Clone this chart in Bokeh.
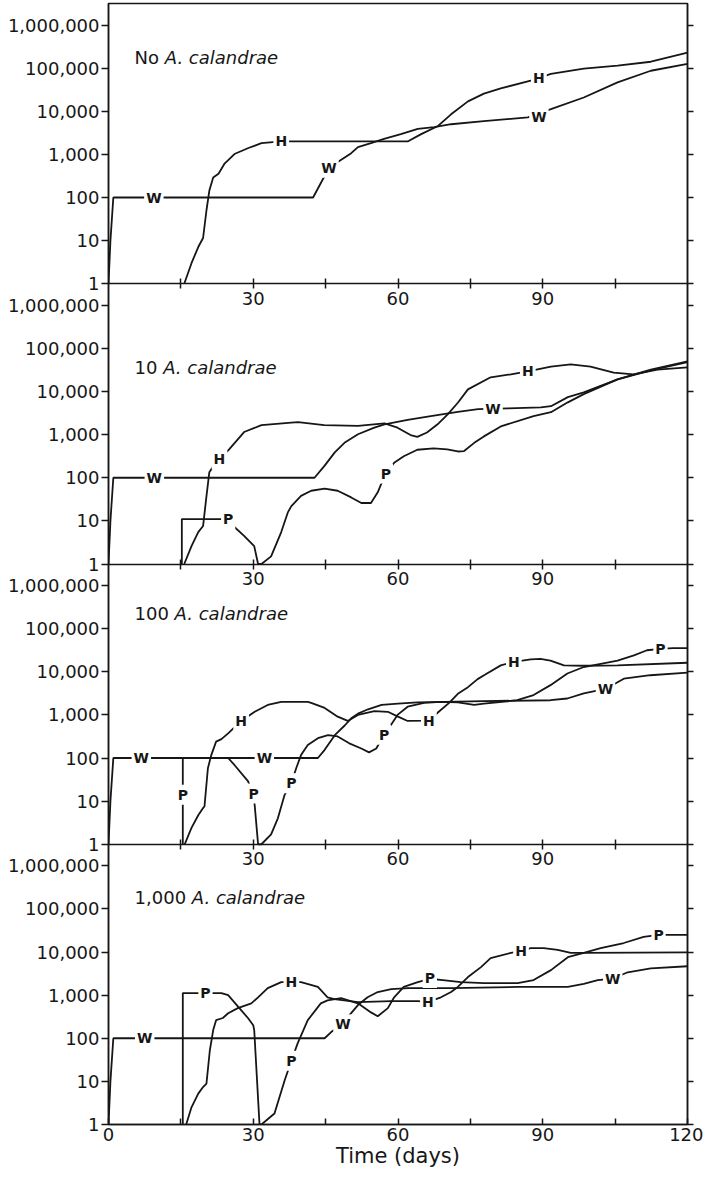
from bokeh.plotting import figure
from bokeh.models import (Range1d, FixedTicker, LinearAxis, LogAxis, LogScale,
                          CustomJSTickFormatter, ColumnDataSource)
from bokeh.core.properties import value
from bokeh.embed import file_html
from bokeh.resources import INLINE

# ---------------- data ----------------
X_TICKS = [0, 15, 30, 45, 60, 75, 90, 105, 120]
X_INNER_TICKS = [15, 30, 45, 60, 75, 90, 105]
X_HIDDEN = [15, 45, 75, 105]
Y_TICKS = [1, 10, 100, 1000, 10000, 100000, 1000000]

PANEL_PREFIX = ["No ", "10 ", "100 ", "1,000 "]
PANEL_SPECIES = "A. calandrae"
X_TITLE = "Time (days)"
TITLE_DAY = 5.4
TITLE_COUNT = [174000, 36300, 229000, 182000]

# Panel 1 : no A. calandrae
p1_w_day = [0, 0.4, 1.0, 42.4, 45.7, 50.3, 51.7, 54.4, 57.1, 60.6, 64.1, 67.5, 71.0, 77.8,
            86.9, 91.7, 98.5, 105.5, 112.4, 120]
p1_w_count = [1, 10, 100, 100, 490, 1070, 1480, 1820, 2290, 2950, 3890, 4270, 5010, 5890,
              7240, 11200, 20900, 46800, 87100, 126000]
p1_h_day = [15.7, 17.2, 18.6, 19.6, 20.3, 20.9, 21.7, 22.8, 24.0, 26.1, 29.0, 31.7, 35.8,
            62.0, 64.8, 68.3, 71.0, 74.5, 77.8, 81.3, 87.5, 91.7, 98.5, 105.5, 112.4, 120]
p1_h_count = [1, 3, 7.1, 11.5, 50, 145, 290, 355, 600, 1020, 1410, 1820, 2000,
              2000, 2950, 4570, 8510, 17000, 25700, 33900, 51300, 74100, 97700, 115000,
              141000, 229000]
p1_lab_text = ["W", "H", "W", "H", "W"]
p1_lab_day = [9.4, 35.8, 45.7, 89.2, 89.2]
p1_lab_count = [100, 2000, 490, 58000, 7500]

# Panel 2 : 10 A. calandrae
p2_w_day = [0, 0.4, 1.0, 42.7, 44.8, 46.9, 48.9, 51.7, 55.1, 57.2, 62.0, 66.8, 72.4, 76.6,
            82.8, 89.6, 91.7, 95.2, 98.5, 105.5, 112.4, 120]
p2_w_count = [1, 10, 100, 100, 191, 389, 646, 1020, 1450, 1740, 2190, 2690, 3390, 3890,
              4070, 4270, 4570, 7410, 9550, 19100, 32400, 50100]
p2_h_day = [15.7, 17.2, 18.6, 19.6, 20.3, 20.9, 21.7, 23.0, 25.0, 28.1, 31.7, 37.9, 39.3,
            44.7, 51.7, 57.2, 59.9, 62.6, 64.0, 66.0, 68.2, 70.3, 72.4, 74.5, 79.2, 83.4,
            86.9, 91.7, 95.8, 99.9, 104.7, 108.8, 113.8, 120]
p2_h_count = [1, 2.6, 5.5, 7.6, 37, 135, 186, 270, 457, 1150, 1660, 1900, 1950,
              1660, 1590, 1820, 1450, 977, 891, 1120, 1740, 2950, 5500, 11200, 21400, 25100,
              29500, 38000, 42700, 38000, 27500, 25100, 32400, 36300]
p2_p_day = [15.2, 15.2, 24.8, 26.1, 28.1, 30.2, 31.0, 31.7, 33.7, 35.8, 37.2, 37.9, 39.9,
            42.0, 44.8, 47.5, 50.3, 52.4, 54.4, 55.8, 56.5, 57.5, 59.2, 61.2, 64.0, 67.4,
            70.2, 72.4, 73.7, 75.8, 77.8, 81.3, 88.1, 91.7, 95.2, 98.5, 105.5, 112.4, 120]
p2_p_count = [1, 11, 11, 7.2, 4.5, 2.6, 1, 1, 1.5, 5.5, 16, 22, 38,
              50, 56, 50, 35, 26, 26, 46, 71, 120, 224, 316, 447, 479,
              457, 407, 417, 646, 912, 1550, 2690, 3310, 5620, 8710, 19100, 30900, 47900]
p2_lab_text = ["W", "H", "P", "P", "W", "H"]
p2_lab_day = [9.5, 23.0, 24.8, 57.5, 79.7, 86.9]
p2_lab_count = [100, 270, 11, 125, 3980, 29500]

# Panel 3 : 100 A. calandrae
p3_w_day = [0, 0.4, 1.0, 43.4, 44.8, 46.9, 49.0, 50.3, 51.7, 53.8, 56.6, 60.0, 64.1, 77.8,
            91.6, 95.1, 98.5, 103.0, 106.8, 112.3, 120]
p3_w_count = [1, 10, 100, 100, 155, 339, 575, 832, 1070, 1350, 1700, 1820, 1950, 2090,
              2190, 2400, 3160, 4000, 6920, 8320, 9550]
p3_h_day = [15.8, 17.2, 18.6, 19.6, 19.9, 20.6, 21.3, 22.3, 23.4, 24.8, 27.5, 30.3, 33.0,
            35.8, 41.3, 42.0, 44.8, 47.5, 49.6, 51.7, 55.1, 57.9, 60.0, 62.0, 66.4, 68.5,
            70.6, 72.4, 74.5, 76.5, 78.0, 81.3, 84.0, 87.5, 89.5, 91.6, 94.4, 98.5, 105.5, 120]
p3_h_count = [1, 2.4, 4.7, 6.9, 7.6, 58, 117, 240, 275, 372, 724, 1180, 1700,
              2000, 2000, 1910, 1450, 912, 724, 1000, 1230, 1180, 912, 724, 740, 1200,
              1900, 3090, 4400, 6760, 8500, 14100, 17000, 19500, 20000, 18200, 14100, 13800,
              14100, 16200]
p3_p_day = [15.4, 15.4, 24.8, 26.1, 28.9, 30.0, 30.3, 31.0, 31.7, 33.7, 35.1, 36.5, 37.9,
            38.9, 39.9, 41.3, 43.4, 45.5, 47.5, 49.9, 52.4, 54.0, 55.5, 57.1, 58.5, 59.9,
            62.0, 65.4, 68.9, 72.4, 75.8, 77.8, 84.7, 88.1, 91.6, 95.1, 98.5, 105.5, 108.9,
            111.6, 114.4, 117.0, 120]
p3_p_count = [1, 100, 100, 69, 29, 15, 8, 1, 1, 1.7, 4, 14, 26,
              58, 117, 200, 288, 339, 316, 219, 166, 135, 166, 347, 575, 1000,
              1550, 1900, 2000, 1950, 1700, 1820, 2190, 2880, 4900, 9120, 12900, 18200, 24000,
              31600, 34000, 35500, 35500]
p3_lab_text = ["W", "W", "P", "H", "P", "P", "P", "H", "H", "W", "P"]
p3_lab_day = [6.8, 32.3, 15.4, 27.5, 30.1, 37.9, 57.1, 66.4, 84.0, 103.0, 114.4]
p3_lab_count = [100, 100, 14, 724, 15, 26, 347, 740, 17000, 4000, 34000]

# Panel 4 : 1,000 A. calandrae
p4_w_day = [0, 0.4, 1.0, 44.8, 46.2, 48.6, 49.9, 51.7, 53.7, 55.8, 58.6, 62.1, 71.0, 84.8,
            95.2, 98.5, 101.4, 104.5, 107.6, 112.4, 120]
p4_w_count = [1, 10, 100, 100, 141, 210, 339, 589, 891, 1180, 1380, 1450, 1450, 1550,
              1550, 1820, 2240, 2400, 3390, 4170, 4680]
p4_h_day = [16.1, 17.2, 18.6, 19.6, 20.3, 21.0, 21.7, 22.3, 23.7, 24.8, 26.8, 29.6, 31.0,
            33.0, 35.8, 37.9, 39.9, 43.4, 45.4, 46.8, 51.7, 58.6, 64.1, 66.2, 68.9, 71.0,
            72.4, 74.5, 77.2, 79.2, 83.4, 85.5, 87.5, 90.2, 93.1, 95.8, 98.5, 120]
p4_h_count = [1, 2.5, 5.2, 7.4, 8.9, 52, 155, 263, 295, 380, 501, 646, 891,
              1450, 2000, 2000, 2000, 1550, 891, 813, 692, 724, 724, 700, 891, 1180,
              1550, 2630, 4470, 7240, 9550, 10500, 12300, 12300, 11200, 9550, 9550, 9770]
p4_p_day = [15.4, 15.4, 23.4, 24.8, 26.9, 28.9, 30.0, 30.2, 31.3, 31.7, 34.4, 36.5, 37.9,
            39.2, 41.3, 44.0, 45.4, 48.2, 51.7, 54.4, 55.8, 57.9, 59.2, 61.2, 64.1, 66.6,
            69.3, 73.0, 77.8, 84.8, 88.1, 91.7, 95.2, 98.5, 102.0, 106.8, 110.9, 114.0,
            116.5, 120]
p4_p_count = [1, 1120, 1120, 1000, 537, 295, 200, 155, 1, 1, 1.8, 10.5, 30,
              76, 263, 646, 759, 851, 646, 398, 324, 501, 891, 1550, 2000, 2400,
              2240, 2000, 1910, 1910, 2240, 3800, 7590, 9550, 12300, 16200, 22400, 25100,
              25100, 25100]
p4_lab_text = ["W", "P", "H", "P", "W", "H", "P", "H", "W", "P"]
p4_lab_day = [7.5, 20.1, 37.9, 37.9, 48.6, 66.2, 66.6, 85.5, 104.5, 114.0]
p4_lab_count = [100, 1120, 2000, 30, 210, 700, 2500, 10500, 2400, 25100]

PANELS = [
    dict(series=[(p1_w_day, p1_w_count), (p1_h_day, p1_h_count)],
         labels=(p1_lab_text, p1_lab_day, p1_lab_count)),
    dict(series=[(p2_w_day, p2_w_count), (p2_h_day, p2_h_count), (p2_p_day, p2_p_count)],
         labels=(p2_lab_text, p2_lab_day, p2_lab_count)),
    dict(series=[(p3_w_day, p3_w_count), (p3_h_day, p3_h_count), (p3_p_day, p3_p_count)],
         labels=(p3_lab_text, p3_lab_day, p3_lab_count)),
    dict(series=[(p4_w_day, p4_w_count), (p4_h_day, p4_h_count), (p4_p_day, p4_p_count)],
         labels=(p4_lab_text, p4_lab_day, p4_lab_count)),
]

# ---------------- styling / layout ----------------
FONT = "DejaVu Sans"
INK = "#161616"
DECADES = 6.5            # each panel shows 1 .. 10^6.5
NP = len(PANELS)
TITLE_SIZE = 18
ADV = {",": 0.318, " ": 0.318, "N": 0.748, "o": 0.612}


def prefix_width(s, size):
    return sum(ADV.get(c, 0.636) for c in s) * size


blank = CustomJSTickFormatter(code="return ''")
overrides = {t: "" for t in X_HIDDEN}

# one log range per panel, stacked in a single frame (panel 0 on top)
names = [f"panel{k}" for k in range(NP)]
shift = [10 ** (DECADES * (NP - 1 - k)) for k in range(NP)]
extra = {names[k]: Range1d(1 / shift[k], 10 ** (DECADES * NP) / shift[k]) for k in range(NP)}
stacked_ticks = sorted(t * shift[k] for k in range(NP) for t in Y_TICKS)

count_formatter = CustomJSTickFormatter(args=dict(dec=DECADES), code="""
    const e = Math.log10(tick);
    const i = Math.round(e - dec * Math.floor((e + 0.25) / dec));
    const s = String(Math.round(Math.pow(10, i)));
    return s.replace(/\\B(?=(\\d{3})+(?!\\d))/g, ",");
""")

p = figure(width=703, height=1170, x_range=Range1d(0, 120),
           y_range=Range1d(1, 10 ** (DECADES * NP)), y_axis_type="log",
           x_axis_location=None, y_axis_location=None,
           output_backend="svg", toolbar_location=None,
           min_border_left=108, min_border_right=16, min_border_top=3, min_border_bottom=0,
           background_fill_color="white", border_fill_color="white")
p.extra_y_ranges = extra
p.extra_y_scales = {n: LogScale() for n in names}
p.grid.visible = False
p.outline_line_color = INK
p.outline_line_width = 1.5

tick_style = dict(major_tick_line_width=1.5, major_tick_line_color=INK,
                  minor_tick_out=0, minor_tick_in=0)

# left count axis (all four panels) and right tick-only axis
la = LogAxis(ticker=FixedTicker(ticks=stacked_ticks, minor_ticks=[]),
             formatter=count_formatter,
             major_tick_out=7, major_tick_in=0, major_label_standoff=2,
             major_label_text_font=FONT, major_label_text_font_size="18px",
             major_label_text_color=INK, axis_line_color=INK, axis_line_width=1.5,
             **tick_style)
p.add_layout(la, "left")
ra = LogAxis(ticker=FixedTicker(ticks=stacked_ticks, minor_ticks=[]), formatter=blank,
             major_tick_out=6, major_tick_in=0, major_label_standoff=0,
             major_label_text_font_size="1px", axis_line_color=INK, axis_line_width=1.5,
             **tick_style)
p.add_layout(ra, "right")

for k, spec in enumerate(PANELS):
    rn = names[k]
    # time axis on the boundary below each upper panel
    if k < NP - 1:
        ba = LinearAxis(y_range_name=rn, fixed_location=1,
                        ticker=FixedTicker(ticks=X_INNER_TICKS, minor_ticks=[]),
                        major_label_overrides=overrides,
                        major_tick_in=5, major_tick_out=5, major_label_standoff=3,
                        major_label_text_font=FONT, major_label_text_font_size="18px",
                        major_label_text_color=INK,
                        axis_line_color=INK, axis_line_width=1.5, **tick_style)
        p.add_layout(ba, "below")

    for days, counts in spec["series"]:
        p.line(days, counts, y_range_name=rn, line_color=INK, line_width=1.8)

    txt, dd, cc = spec["labels"]
    src = ColumnDataSource(dict(day=dd, count=cc, text=txt))
    p.text(x="day", y="count", text="text", source=src, y_range_name=rn,
           text_font=value(FONT), text_font_style="bold", text_font_size="14px",
           text_align="center", text_baseline="middle", text_color=INK,
           background_fill_color="white", padding=2)

    p.text(x=[TITLE_DAY], y=[TITLE_COUNT[k]], text=[PANEL_PREFIX[k]], y_range_name=rn,
           text_font=value(FONT), text_font_size=f"{TITLE_SIZE}px", text_align="left",
           text_baseline="middle", text_color=INK)
    p.text(x=[TITLE_DAY], y=[TITLE_COUNT[k]], text=[PANEL_SPECIES], y_range_name=rn,
           x_offset=prefix_width(PANEL_PREFIX[k], TITLE_SIZE),
           text_font=value(FONT), text_font_size=f"{TITLE_SIZE}px", text_font_style="italic",
           text_align="left", text_baseline="middle", text_color=INK)

# bottom time axis with title
xa = LinearAxis(ticker=FixedTicker(ticks=X_TICKS, minor_ticks=[]),
                major_label_overrides=overrides,
                major_tick_in=6, major_tick_out=0, major_label_standoff=3,
                major_label_text_font=FONT, major_label_text_font_size="18px",
                major_label_text_color=INK,
                axis_label=X_TITLE, axis_label_standoff=0,
                axis_label_text_font=FONT, axis_label_text_font_size="21px",
                axis_label_text_font_style="normal", axis_label_text_color=INK,
                axis_line_color=INK, axis_line_width=1.5, **tick_style)
p.add_layout(xa, "below")

open("out.html", "w").write(file_html(p, INLINE))
